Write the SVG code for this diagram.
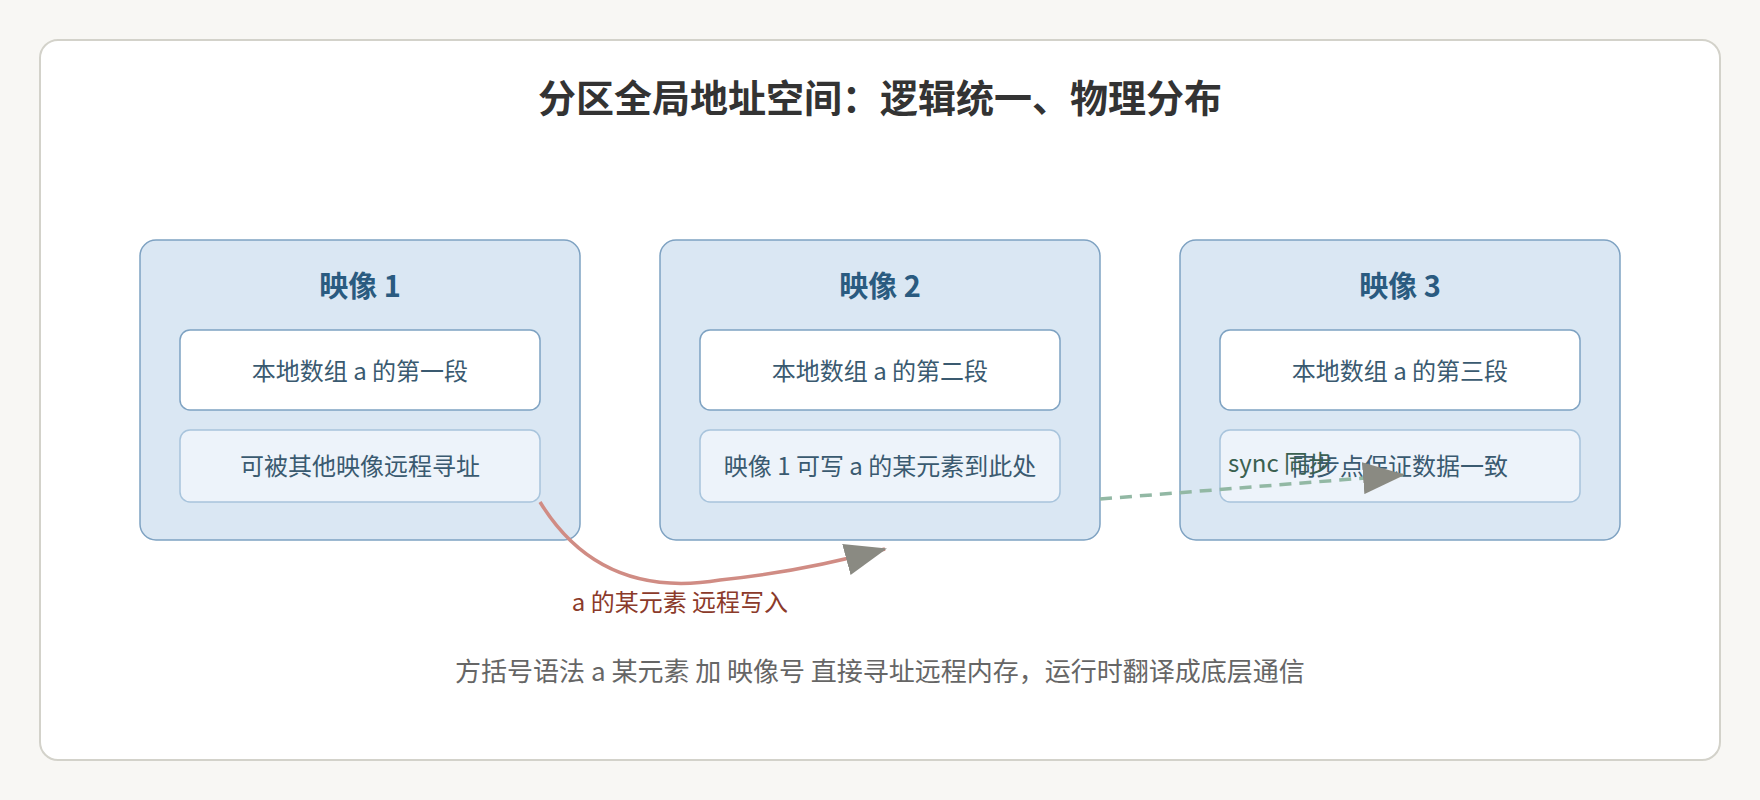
<svg xmlns="http://www.w3.org/2000/svg" width="1760" height="800" viewBox="0 0 1760 800">
<style>
text{font-family:"Noto Sans CJK SC","Noto Sans",sans-serif;text-anchor:middle}
.title{font-size:38px;font-weight:bold;fill:#333}
.img{fill:#dae7f3;stroke:#7ea2c2;stroke-width:1.5}
.h{font-size:29px;font-weight:bold;fill:#2a5b80}
.a{fill:#fff;stroke:#7ea2c2;stroke-width:1.5}
.b{fill:#edf3fa;stroke:#a8c4dc;stroke-width:1.5}
.t{font-size:24px;fill:#3a5a70}
</style>
<defs>
<marker id="ar" markerUnits="userSpaceOnUse" markerWidth="42" markerHeight="32" refX="40" refY="16" orient="auto"><path d="M0,0 L42,16 L0,32 z" fill="#8a8a82"/></marker>
</defs>
<rect width="1760" height="800" fill="#f8f7f4"/>
<rect x="40" y="40" width="1680" height="720" rx="18" fill="#fff" stroke="#d3d2ca" stroke-width="2"/>
<text class="title" x="880" y="112">分区全局地址空间：逻辑统一、物理分布</text>
<g id="img1"><rect class="img" x="140" y="240" width="440" height="300" rx="16"/><text class="h" x="360" y="297">映像 1</text>
<rect class="a" x="180" y="330" width="360" height="80" rx="10"/><text class="t" x="360" y="380">本地数组 a 的第一段</text>
<rect class="b" x="180" y="430" width="360" height="72" rx="10"/><text class="t" x="360" y="475">可被其他映像远程寻址</text></g>
<g id="img2"><rect class="img" x="660" y="240" width="440" height="300" rx="16"/><text class="h" x="880" y="297">映像 2</text>
<rect class="a" x="700" y="330" width="360" height="80" rx="10"/><text class="t" x="880" y="380">本地数组 a 的第二段</text>
<rect class="b" x="700" y="430" width="360" height="72" rx="10"/><text class="t" x="880" y="475">映像 1 可写 a 的某元素到此处</text></g>
<g id="img3"><rect class="img" x="1180" y="240" width="440" height="300" rx="16"/><text class="h" x="1400" y="297">映像 3</text>
<rect class="a" x="1220" y="330" width="360" height="80" rx="10"/><text class="t" x="1400" y="380">本地数组 a 的第三段</text>
<rect class="b" x="1220" y="430" width="360" height="72" rx="10"/><text class="t" x="1400" y="475">同步点保证数据一致</text></g>
<g id="connectors">
<path d="M540 502 Q600 600 720 580 Q800 572 885 549" fill="none" stroke="#d08c84" stroke-width="3.5" marker-end="url(#ar)"/>
<text x="680" y="611" style="font-size:24px;fill:#8b3a2a">a 的某元素 远程写入</text>
<path d="M1100 499 L1403 475" fill="none" stroke="#92b8a4" stroke-width="3.5" stroke-dasharray="12 8" marker-end="url(#ar)"/>
<text x="1228" y="472" style="font-size:24px;fill:#3a6050;text-anchor:start">sync 同步</text>
</g>
<text x="880" y="681" style="font-size:26px;fill:#666">方括号语法 a 某元素 加 映像号 直接寻址远程内存，运行时翻译成底层通信</text>
</svg>
